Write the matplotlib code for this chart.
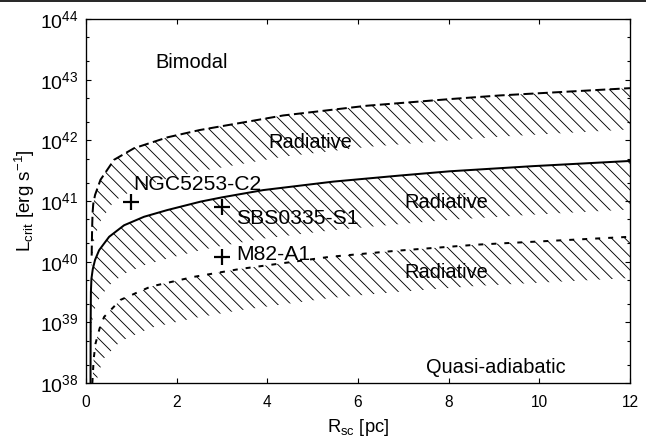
import numpy as np
import matplotlib
matplotlib.use("Agg")
import matplotlib.pyplot as plt
from matplotlib.lines import Line2D
from matplotlib.ticker import FixedLocator, LogFormatterSciNotation, MultipleLocator, NullFormatter

plt.rcParams['font.family'] = ['Liberation Sans', 'DejaVu Sans']
plt.rcParams['mathtext.fontset'] = 'custom'
plt.rcParams['mathtext.rm'] = 'Liberation Sans'
plt.rcParams['mathtext.it'] = 'Liberation Sans:italic'
plt.rcParams['mathtext.default'] = 'regular'
plt.rcParams['hatch.linewidth'] = 0.8

# critical luminosity, log10(L_crit / erg s^-1) against cluster radius R_sc [pc]
r_upper = [0.125, 0.135, 0.145, 0.16, 0.2, 0.32, 0.62, 1.06, 1.8, 2.51, 4.35, 6.19, 8.03, 9.13, 12.0]
lg_upper = [40.1, 40.55, 40.8, 40.95, 41.1, 41.35, 41.68, 41.87, 42.05, 42.17, 42.41, 42.57, 42.68, 42.74, 42.86]

r_mid = [0.100, 0.103, 0.108, 0.12, 0.15, 0.2, 0.29, 0.51, 0.84, 1.28, 1.79, 2.53, 3.0, 3.91, 5.46, 6.93, 8.03, 9.87, 12.0]
lg_mid = [38.0, 39.0, 39.5, 39.72, 39.88, 40.03, 40.19, 40.41, 40.60, 40.74, 40.85, 40.99, 41.06, 41.18, 41.32, 41.42, 41.49, 41.575, 41.66]

r_lower = [0.14, 0.17, 0.21, 0.30, 0.40, 0.76, 1.43, 2.38, 3.40, 5.38, 6.85, 8.62, 9.13, 12.0]
lg_lower = [38.0, 38.4, 38.65, 38.9, 39.09, 39.37, 39.59, 39.75, 39.88, 40.08, 40.18, 40.28, 40.30, 40.41]

# depth (dex) of the hatched radiative strip under each curve
depth_upper = 0.68
depth_mid = 0.8
depth_lower = 0.68

# observed clusters: name, R_sc [pc], log10 L
clusters = ['NGC5253-C2', 'SBS0335-S1', 'M82-A1']
cl_r = [1.0, 3.0, 3.0]
cl_lg = [40.98, 40.90, 40.07]

decades = np.arange(38, 45)

fig = plt.figure(figsize=(646 / 80, 442 / 80), dpi=80)
ax = fig.add_axes([86 / 646, 1 - 383 / 442, 544 / 646, 364 / 442])

curves = [
    (r_upper, lg_upper, depth_upper, dict(ls=(0, (5, 2.2)))),
    (r_mid, lg_mid, depth_mid, dict(ls='-')),
    (r_lower, lg_lower, depth_lower, dict(ls=(0, (2.5, 4)))),
]
for r, lg, depth, style in curves:
    L = 10 ** np.array(lg)
    ax.fill_between(r, L / 10 ** depth, L, facecolor='none', edgecolor='k',
                    hatch='\\\\', linewidth=0)
    ax.plot(r, L, color='k', lw=1.8, **style)

ax.plot(cl_r, 10 ** np.array(cl_lg), ls='none', marker='+', ms=15,
        mew=2, color='k')

ax.set_xlim(0, 12)
ax.set_ylim(1e38, 1e44)
ax.set_yscale('log')
ax.yaxis.set_major_locator(FixedLocator(10.0 ** decades))
ax.yaxis.set_major_formatter(LogFormatterSciNotation())
ax.yaxis.set_minor_locator(FixedLocator([m * 10.0 ** d for d in decades[:-1] for m in (2, 5)]))
ax.yaxis.set_minor_formatter(NullFormatter())
ax.xaxis.set_major_locator(MultipleLocator(2))
ax.tick_params(which='both', direction='in', top=True, right=True, width=1)
ax.tick_params(which='major', length=4.5)
ax.tick_params(which='minor', length=3)
ax.tick_params(axis='x', labelsize=14, pad=11)
ax.tick_params(axis='y', labelsize=17.5, pad=7)
for s in ax.spines.values():
    s.set_linewidth(1.2)

ax.set_xlabel(r'R$_{\mathrm{sc}}$ [pc]', fontsize=16.5, labelpad=6)
ax.set_ylabel(r'L$_{\mathrm{crit}}$ [erg s$^{-1}$]', fontsize=17, labelpad=2)

fs = 18
ax.text(1.52, 10 ** 43.19, 'Bimodal', fontsize=fs)
ax.text(4.02, 10 ** 41.87, 'Radiative', fontsize=fs)
ax.text(7.02, 10 ** 40.88, 'Radiative', fontsize=fs)
ax.text(7.02, 10 ** 39.73, 'Radiative', fontsize=fs)
ax.text(7.51, 10 ** 38.17, 'Quasi-adiabatic', fontsize=fs)

fs_cl = 19
ax.text(1.04, 10 ** 41.18, clusters[0], fontsize=fs_cl)
ax.text(3.32, 10 ** 40.62, clusters[1], fontsize=fs_cl)
ax.text(3.32, 10 ** 40.03, clusters[2], fontsize=fs_cl)

# thin rule along the top edge
fig.add_artist(Line2D([0, 1], [1 - 1 / 442, 1 - 1 / 442], transform=fig.transFigure,
                      color='k', lw=1.5))

fig.savefig('out.png', dpi=80)
